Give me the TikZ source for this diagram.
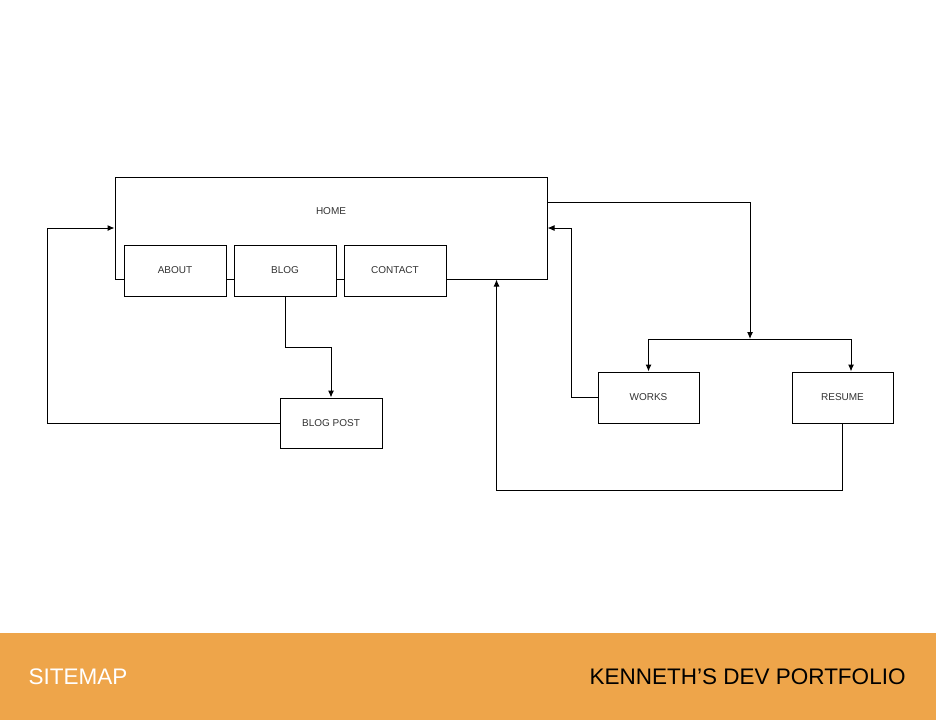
\documentclass[tikz,border=0pt]{standalone}
\usepackage{fontspec}
\setmainfont{Liberation Sans}
\usepackage{tikz}
\usetikzlibrary{arrows,arrows.meta}
\definecolor{bandorange}{HTML}{EEA54A}
\definecolor{labelgray}{HTML}{333333}

\begin{document}
\begin{tikzpicture}[x=1pt,y=-1pt,>={Latex[length=7pt,width=6pt]},line width=1pt]
\tikzset{page/.style={draw=black,fill=white,inner sep=0pt,minimum width=102pt,minimum height=51pt,font=\fontsize{10}{12}\selectfont,text=labelgray}}
\useasboundingbox (0,0) rectangle (936,720);

\node (HOME)[page,minimum width=432pt,minimum height=102pt] at (331,228) {};
\node[font=\fontsize{10}{12}\selectfont,text=labelgray] (HT) at (331,211) {HOME};
\draw (175,270.5) node (ABOUT)[page] {ABOUT} (285,270.5) node (BLOG)[page] {BLOG} (395,270.5) node (CONTACT)[page] {CONTACT};
\draw (331,423) node (BP)[page,minimum height=50pt] {BLOG POST};
\draw (648.5,397.5) node (WORKS)[page,minimum width=101pt] {WORKS} (842.5,397.5) node (RES)[page,minimum width=101pt] {RESUME};
\coordinate (J) at (750,339);

\draw[->] (BLOG.south) -- ++(0,51) -| (BP.north);
\draw[->] (BP.west) -- ++(-232,0) |- (HOME.west);
\draw[->] ([yshift=-26pt]HOME.north east) -| (J);
\draw[->] (J) -| (WORKS.north);
\draw[->] (J) -| ([xshift=8.5pt]RES.north);
\draw[->] (WORKS.west) -- ++(-26,0) |- (HOME.east);
\draw[->] (RES.south) -- ++(0,67) -| ([xshift=-51pt]HOME.south east);

\fill[bandorange] (0,633) rectangle (936,720);
\node[anchor=west,text=white,font=\fontsize{22.5}{26}\selectfont,inner sep=0pt] (SM) at (28,677) {SITEMAP};
\node[anchor=east,text=black,font=\fontsize{22.5}{26}\selectfont,inner sep=0pt] (KP) at (906,677) {KENNETH’S DEV PORTFOLIO};
\end{tikzpicture}
\end{document}
